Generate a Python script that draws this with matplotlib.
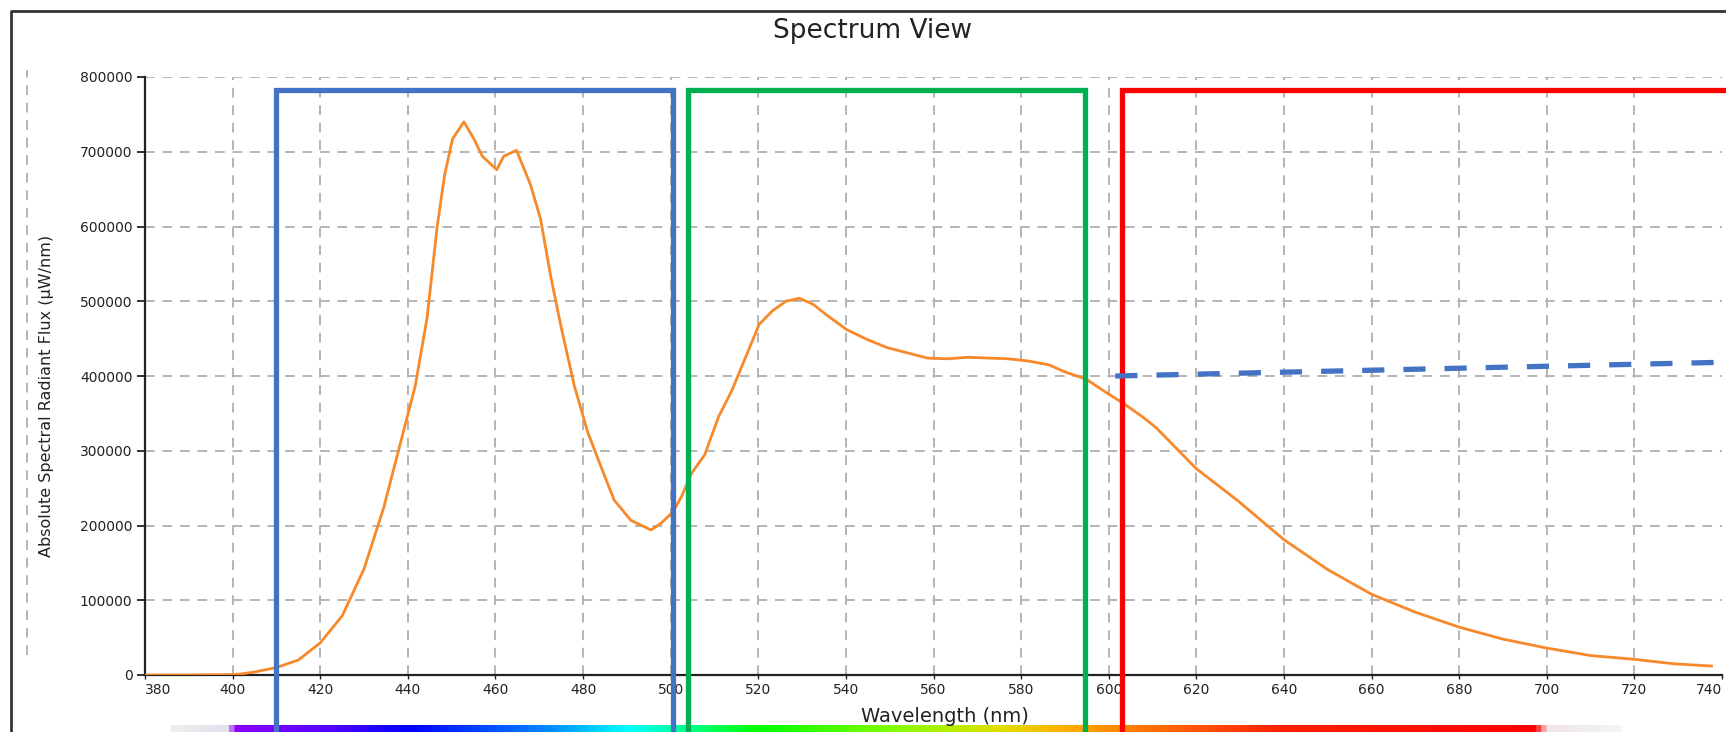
import numpy as np
import matplotlib
matplotlib.use("Agg")
import matplotlib.pyplot as plt
from matplotlib.colors import LinearSegmentedColormap
from matplotlib.lines import Line2D
from matplotlib.ticker import FormatStrFormatter

wavelength = [380, 390, 400, 402, 405, 410, 415, 420, 425, 430, 434.5, 438.3,
              441.7, 444.4, 446.7, 448.4, 450.2, 452.8, 455.1, 457, 460.3,
              461.9, 464.8, 468, 470.3, 472.6, 474.9, 478, 481, 484, 487.1,
              490.9, 495.5, 497.8, 500.5, 502.5, 504.8, 507.8, 510.9, 514,
              517.1, 520.2, 523.2, 526.3, 529.4, 532.5, 535.5, 540.2, 544.8,
              549.4, 554, 558.6, 563.2, 567.8, 572.5, 577.1, 581.7, 586.3,
              590.2, 594.8, 599.4, 603.2, 607.8, 610.8, 620, 629.3, 640, 650,
              660, 670, 680, 690, 700, 710, 720, 729, 737.6]
flux = [0, 0, 500, 1500, 4000, 10000, 20000, 43000, 79000, 142000, 224000,
        310000, 387000, 478000, 600000, 669000, 717000, 740000, 717000,
        694000, 676000, 694000, 702000, 656000, 610000, 534000, 468000,
        387000, 326000, 280000, 234000, 207000, 194000, 203000, 218000,
        239000, 270000, 295000, 345000, 381000, 425000, 469000, 487000,
        500000, 504000, 496000, 482000, 462000, 449000, 438000, 431000,
        424000, 423000, 425000, 424000, 423000, 420000, 415000, 405000,
        396000, 378000, 364000, 345000, 331000, 276000, 234000, 181000,
        141000, 108000, 84000, 64000, 48000, 36000, 26000, 21000, 15000,
        12000]

x_ticks = list(range(380, 741, 20))
y_ticks = list(range(0, 800001, 100000))

# Zones annotées (bleu / vert / rouge) et tendance pointillée
blue_zone = (410, 500.5)
green_zone = (504, 594.5)
red_zone_start = 603
zone_top = 782600
trend_x = [601.5, 745]
trend_y = [400000, 419000]

# Bande arc-en-ciel sous l'axe
rainbow_nm = [386, 398, 400, 420, 440, 470, 490, 505, 520, 550, 575, 590,
              610, 640, 698, 701, 717]
rainbow_col = ['#eeeeee', '#e4e0ec', '#8b00ff', '#5a00ff', '#0000ff',
               '#0080ff', '#00ffff', '#00ff80', '#00ff00', '#80ff00',
               '#e0e000', '#ffb000', '#ff7000', '#ff2000', '#ff0000',
               '#f0e6e6', '#f4f4f4']

W, H = 1726, 732
fig = plt.figure(figsize=(W / 100, H / 100), dpi=100)
ax = fig.add_axes([145 / W, 1 - 675 / H, (1722 - 145) / W, (675 - 77) / H])

ax.plot(wavelength, flux, color='#f7892b', lw=2.0, zorder=3)

# Grille pointillée grise
ax.grid(True, color='#b4b4b4', linestyle=(0, (5, 4)), linewidth=1.4, zorder=0)
ax.set_axisbelow(True)

for s in ['top', 'right']:
    ax.spines[s].set_visible(False)
for s in ['left', 'bottom']:
    ax.spines[s].set_linewidth(1.6)
    ax.spines[s].set_color('#222222')

ax.set_xticks(x_ticks)
ax.set_yticks(y_ticks)
ax.yaxis.set_major_formatter(FormatStrFormatter('%d'))
ax.tick_params(axis='y', length=6, width=1.3, pad=3, labelsize=10, colors='#222222')
ax.tick_params(axis='x', length=3, width=1.0, pad=3, labelsize=10, colors='#222222')

# Rectangles de couleur (débordent du graphe)
ax.plot([blue_zone[0], blue_zone[0], blue_zone[1], blue_zone[1]],
        [-95000, zone_top, zone_top, -95000], color='#4472c4', lw=3.8,
        clip_on=False, zorder=5, solid_joinstyle='miter')
ax.plot([green_zone[0], green_zone[0], green_zone[1], green_zone[1]],
        [-95000, zone_top, zone_top, -95000], color='#00b050', lw=3.8,
        clip_on=False, zorder=5, solid_joinstyle='miter')
ax.plot([red_zone_start, red_zone_start, 770], [-95000, zone_top, zone_top],
        color='#ff0000', lw=3.8, clip_on=False, zorder=5, solid_joinstyle='miter')
ax.plot(trend_x, trend_y, color='#4472c4', lw=3.8, linestyle=(0, (4.2, 3.6)),
        clip_on=False, zorder=6)

# Bande spectrale
pos = [(v - rainbow_nm[0]) / (rainbow_nm[-1] - rainbow_nm[0]) for v in rainbow_nm]
cmap = LinearSegmentedColormap.from_list('spec', list(zip(pos, rainbow_col)))
grad = np.linspace(0, 1, 800)[None, :]
ax.imshow(grad, cmap=cmap, aspect='auto', extent=(386, 717, -80000, -67000),
          clip_on=False, zorder=1)

ax.set_xlim(380, 740)
ax.set_ylim(0, 800000)
ax.xaxis.get_gridlines()[-1].set_visible(False)
ax.xaxis.get_gridlines()[0].set_visible(False)

# Étiquettes d'extrémité gardées à l'intérieur, comme dans le logiciel
fig.canvas.draw()
xlabels = ax.get_xticklabels()
xlabels[0].set_horizontalalignment('left')
xlabels[-1].set_horizontalalignment('right')

# Textes
fig.text(873 / W, 1 - 31 / H, 'Spectrum View', ha='center', va='center',
         fontsize=19, color='#222222')
fig.text(945 / W, 1 - 716 / H, 'Wavelength (nm)', ha='center', va='center',
         fontsize=14, color='#222222')
fig.text(47 / W, 1 - 396 / H, 'Absolute Spectral Radiant Flux (µW/nm)',
         ha='center', va='center', rotation=90, fontsize=11.5, color='#222222')

# Cadre extérieur et ligne pointillée à gauche
fig.add_artist(Line2D([11 / W, 11 / W, 1.0], [0, 1 - 11 / H, 1 - 11 / H],
                      color='#333333', lw=2.0, transform=fig.transFigure))
fig.add_artist(Line2D([27 / W, 27 / W], [1 - 655 / H, 1 - 70 / H],
                      color='#b4b4b4', lw=1.4, linestyle=(0, (5, 4)),
                      transform=fig.transFigure))

fig.savefig('out.png', dpi=100)
